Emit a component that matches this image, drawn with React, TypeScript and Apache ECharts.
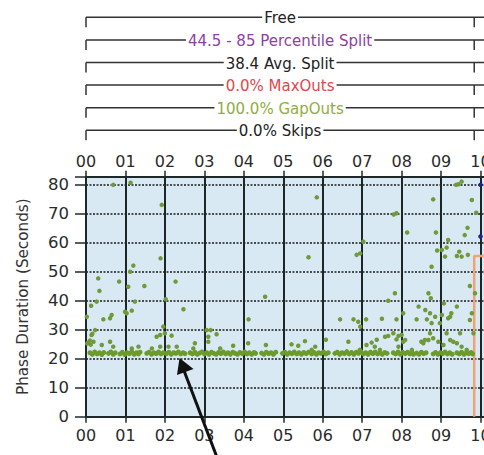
import React, { useEffect, useRef } from "react";
import * as echarts from "echarts";

// ---- data ----
const hourLabels = ["00", "01", "02", "03", "04", "05", "06", "07", "08", "09", "10"];
const yTickValues = [0, 10, 20, 30, 40, 50, 60, 70, 80];

// dense band of gap-out durations near the minimum green
const bandPoints: [number, number][] = [
  [0.1, 22], [0.16, 21.5], [0.22, 22.3], [0.28, 21.6], [0.34, 22], [0.4, 21.4], [0.45, 22.1],
  [0.57, 21.8], [0.63, 22.3], [0.69, 21.5], [0.74, 22],
  [0.86, 21.6], [0.92, 22.2], [0.98, 21.4], [1.04, 22], [1.1, 21.7], [1.16, 22.4], [1.22, 21.5], [1.28, 22], [1.33, 21.6], [1.37, 22.2],
  [1.54, 21.8], [1.6, 22.2], [1.66, 21.5], [1.72, 22], [1.78, 21.7], [1.84, 22.3], [1.9, 21.6], [1.96, 22],
  [2.04, 21.7], [2.1, 22.2], [2.16, 21.5], [2.22, 22], [2.28, 21.8], [2.34, 22.3], [2.4, 21.6], [2.46, 22], [2.51, 21.7],
  [2.64, 22], [2.7, 21.6], [2.76, 22.2], [2.82, 21.5], [2.88, 21.9], [2.94, 22.3], [3.0, 21.6], [3.06, 22], [3.12, 21.5], [3.18, 22.2],
  [3.24, 21.8], [3.3, 21.5], [3.36, 22.1], [3.42, 21.7], [3.48, 22.3], [3.54, 21.6], [3.6, 22], [3.66, 21.5], [3.72, 22.2], [3.78, 21.8],
  [3.84, 21.5], [3.9, 22.1], [3.96, 21.7], [4.02, 22.3], [4.08, 21.6], [4.14, 22], [4.2, 21.5], [4.26, 22.1], [4.3, 21.8],
  [4.45, 21.9], [4.51, 21.5], [4.57, 22.2], [4.63, 21.7], [4.69, 22], [4.75, 21.5], [4.81, 22.2],
  [4.98, 21.8], [5.04, 22.2], [5.1, 21.5], [5.16, 22], [5.22, 21.7], [5.28, 22.3], [5.34, 21.6], [5.4, 22], [5.46, 21.5], [5.52, 22.1], [5.58, 21.7], [5.64, 22.2],
  [5.72, 21.6], [5.78, 22.1], [5.84, 21.5], [5.9, 22], [5.96, 21.8], [6.02, 22.3], [6.08, 21.6], [6.14, 22],
  [6.31, 21.8], [6.37, 22.2], [6.43, 21.5], [6.49, 22], [6.55, 21.7], [6.61, 22.4], [6.67, 21.6], [6.73, 22.1], [6.79, 21.5], [6.85, 22.2],
  [6.91, 21.8], [6.97, 22.4], [7.03, 21.6], [7.09, 22], [7.15, 21.5], [7.21, 22.2], [7.27, 21.7], [7.33, 22.3], [7.39, 21.6], [7.45, 22],
  [7.51, 21.5], [7.57, 22.1], [7.63, 21.8],
  [7.79, 22], [7.85, 21.6], [7.91, 22.3], [7.97, 21.5], [8.03, 22.1], [8.09, 21.7], [8.15, 22.2], [8.21, 21.6], [8.27, 22], [8.3, 21.5],
  [8.38, 21.9], [8.44, 21.5], [8.5, 22.2], [8.56, 21.7], [8.62, 22],
  [8.8, 21.6], [8.86, 22.1], [8.92, 21.5], [8.98, 22], [9.04, 21.7], [9.1, 22.3], [9.16, 21.6], [9.22, 22], [9.28, 21.5],
  [9.4, 22], [9.46, 21.6], [9.52, 22.2], [9.58, 21.5], [9.64, 22], [9.7, 21.7], [9.76, 22.1], [9.8, 21.6],
];

// scattered phase durations above the band
const scatterPoints: [number, number][] = [
  [0.02, 34.4], [0.1, 26.2], [0.13, 38.2], [0.14, 28.1], [0.16, 28.5], [0.19, 25.8], [0.23, 29.8], [0.27, 39.6], [0.31, 47.6],
  [0.34, 43.3], [0.4, 24.7], [0.44, 33.5], [0.06, 25.5], [0.03, 25.2], [0.12, 24.8], [0.61, 25.8], [0.61, 33.9], [0.65, 35.0],
  [0.69, 24.1], [0.69, 79.8], [0.84, 46.5], [0.99, 36.1], [1.03, 35.6], [1.07, 44.7], [1.12, 49.9], [1.13, 80.5], [1.16, 36.5],
  [1.16, 23.5], [1.2, 52.0], [1.24, 39.6], [1.33, 24.1], [1.48, 45.0], [1.67, 23.5], [1.79, 27.5], [1.88, 24.1], [1.88, 28.1],
  [1.89, 54.5], [1.92, 72.9], [1.96, 31.0], [2.02, 40.4], [2.0, 28.7], [2.09, 24.1], [2.17, 27.9], [2.27, 46.5], [2.3, 24.1],
  [2.47, 37.0], [2.72, 23.5], [2.76, 25.3], [3.06, 29.8], [3.1, 25.8], [3.1, 27.5], [3.16, 29.8], [3.31, 28.4], [3.4, 23.5],
  [3.73, 24.4], [4.11, 25.3], [4.12, 33.5], [4.54, 41.3], [4.56, 24.7], [5.21, 24.9], [5.38, 24.4], [5.55, 26.0], [5.64, 54.9],
  [5.72, 23.0], [5.81, 24.1], [5.85, 75.5], [6.08, 26.5], [6.44, 33.5], [6.65, 25.8], [6.78, 33.5], [6.86, 55.7], [6.9, 32.7],
  [6.94, 23.0], [6.95, 31.0], [6.95, 56.2], [7.03, 60.2], [7.1, 33.5], [7.11, 24.7], [7.24, 25.5], [7.32, 24.1], [7.37, 26.5],
  [7.45, 23.0], [7.5, 33.7], [7.58, 27.5], [7.66, 39.9], [7.66, 27.8], [7.8, 69.6], [7.83, 42.5], [7.87, 33.5], [7.87, 70.0],
  [7.79, 28.7], [7.87, 26.6], [7.92, 24.1], [7.92, 27.8], [8.0, 28.1], [8.04, 35.6], [8.04, 25.8], [8.09, 26.4], [8.14, 63.4],
  [8.26, 23.0], [8.38, 33.5], [8.43, 37.9], [8.5, 25.8], [8.55, 25.3], [8.6, 36.7], [8.59, 26.4], [8.64, 33.5], [8.68, 26.4],
  [8.68, 42.5], [8.72, 35.6], [8.72, 28.7], [8.74, 40.8], [8.76, 32.2], [8.76, 51.6], [8.8, 74.8], [8.8, 27.0], [8.85, 34.4],
  [8.87, 63.4], [8.9, 57.2], [8.93, 25.8], [8.97, 32.2], [9.02, 35.0], [9.02, 57.4], [9.06, 24.7], [9.07, 39.0], [9.14, 28.7],
  [9.14, 58.2], [9.1, 55.1], [9.18, 60.8], [9.18, 33.9], [9.23, 34.4], [9.23, 26.4], [9.26, 35.6], [9.31, 25.8], [9.38, 79.8],
  [9.4, 37.9], [9.4, 25.3], [9.4, 55.3], [9.44, 80.0], [9.46, 56.8], [9.48, 28.7], [9.52, 55.1], [9.52, 80.9], [9.52, 24.1],
  [9.6, 62.5], [9.65, 23.0], [9.67, 65.0], [9.68, 55.7], [9.73, 33.3], [9.73, 45.0], [9.78, 74.6], [9.78, 35.6], [9.82, 28.7],
  [9.86, 42.5], [9.89, 70.2],
];

// points of the next plan (past the plan change)
const nextPlanPoints: [number, number][] = [[10.0, 79.8], [10.0, 62.0]];

// plan change step line (time, seconds)
const planChangeLine: [number, number][] = [[9.84, 0], [9.84, 55.3], [10.6, 55.3]];

// plan statistics bracket
const planStart = 0;
const planEnd = 9.84;
const planStats = ["Free", "44.5 - 85 Percentile Split", "38.4 Avg. Split", "0.0% MaxOuts", "100.0% GapOuts", "0.0% Skips"];
const planStatColors = ["#222222", "#9040a0", "#222222", "#e0484a", "#8fae3e", "#222222"];

const FONT = "DejaVu Sans";

export default function App() {
  const ref = useRef<HTMLDivElement>(null);

  useEffect(() => {
    const chart = echarts.init(ref.current!, null, { renderer: "svg" });
    const hourFmt = (v: number) => (Number.isInteger(v) && v >= 0 && v < hourLabels.length ? hourLabels[v] : "");
    const yFmt = (v: number) => (yTickValues.indexOf(v) >= 0 ? String(v) : "");

    chart.setOption({
      animation: false,
      backgroundColor: "#ffffff",
      grid: {
        left: 86,
        width: 418.2,
        top: 176.7,
        height: 240,
        outerBoundsMode: "none",
        containLabel: false,
        show: true,
        backgroundColor: "#d8e9f3",
        borderWidth: 0,
      },
      xAxis: [
        {
          type: "value",
          position: "bottom",
          min: 0,
          max: 10.6,
          interval: 1,
          axisLine: { show: true, lineStyle: { color: "#1e2828", width: 2 } },
          axisTick: { show: true, length: 6, lineStyle: { color: "#1e2828", width: 1.5 } },
          axisLabel: { formatter: hourFmt, margin: 11, fontSize: 16, fontFamily: FONT, color: "#2a2a2a" },
          splitLine: { show: true, lineStyle: { color: "#1c2626", width: 2 } },
        },
        {
          type: "value",
          position: "top",
          min: 0,
          max: 10.6,
          interval: 1,
          axisLine: { show: true, lineStyle: { color: "#1e2828", width: 2 } },
          axisTick: { show: true, length: 6, lineStyle: { color: "#1e2828", width: 1.5 } },
          axisLabel: { formatter: hourFmt, margin: 7, fontSize: 16, fontFamily: FONT, color: "#2a2a2a" },
          splitLine: { show: false },
        },
      ],
      yAxis: {
        type: "value",
        min: 0,
        max: 82.6,
        interval: 10,
        name: "Phase Duration (Seconds)",
        nameLocation: "middle",
        nameGap: 56,
        nameTextStyle: { fontSize: 15.2, fontFamily: FONT, color: "#333333" },
        axisLine: { show: true, lineStyle: { color: "#1e2828", width: 2 } },
        axisTick: { show: true, length: 11, lineStyle: { color: "#1e2828", width: 1.5 } },
        axisLabel: { formatter: yFmt, margin: 17, fontSize: 16.5, fontFamily: FONT, color: "#2a2a2a" },
        splitLine: { show: true, lineStyle: { color: "#1a1a1a", width: 1.5, type: [2, 1.5] } },
      },
      series: [
        {
          type: "line",
          data: planChangeLine,
          symbol: "none",
          lineStyle: { color: "#f0a275", width: 2.5 },
          z: 1,
        },
        {
          type: "scatter",
          data: bandPoints,
          symbolSize: 5,
          itemStyle: { color: "#6c9b2c", opacity: 1 },
        },
        {
          type: "scatter",
          data: scatterPoints,
          symbolSize: 4.5,
          itemStyle: { color: "#70993a", opacity: 1 },
        },
        {
          type: "scatter",
          data: nextPlanPoints,
          symbolSize: 4.5,
          itemStyle: { color: "#22228a", opacity: 1 },
        },
      ],
    });

    const x0 = chart.convertToPixel({ xAxisIndex: 0 }, planStart) as number;
    const x1 = chart.convertToPixel({ xAxisIndex: 0 }, planEnd) as number;
    const midX = (x0 + x1) / 2;
    const graphics: any[] = [];
    planStats.forEach((label, i) => {
      const y = 17.3 + 22.6 * i;
      graphics.push({
        type: "line",
        shape: { x1: x0, y1: y, x2: 500, y2: y },
        style: { stroke: "#333333", lineWidth: 1.5 },
        z: 10,
      });
      graphics.push({
        type: "line",
        shape: { x1: x0, y1: y, x2: x0, y2: y + 10 },
        style: { stroke: "#333333", lineWidth: 1.5 },
        z: 10,
      });
      graphics.push({
        type: "line",
        shape: { x1: x1, y1: y, x2: x1, y2: y + 10 },
        style: { stroke: "#333333", lineWidth: 1.5 },
        z: 10,
      });
      graphics.push({
        type: "text",
        x: midX,
        y: y + 1,
        style: {
          text: label,
          fill: planStatColors[i],
          font: `15px "${FONT}"`,
          align: "center",
          verticalAlign: "middle",
          backgroundColor: "#ffffff",
          padding: [0, 2],
        },
        z: 11,
      });
    });
    // annotation arrow
    graphics.push({
      type: "line",
      shape: { x1: 218, y1: 460, x2: 183, y2: 368 },
      style: { stroke: "#111111", lineWidth: 3 },
      z: 20,
    });
    graphics.push({
      type: "polygon",
      shape: { points: [[179.5, 358], [177, 375], [193.5, 369]] },
      style: { fill: "#111111" },
      z: 20,
    });
    chart.setOption({ graphic: graphics });

    return () => chart.dispose();
  }, []);

  return (
    <div
      ref={ref}
      style={{ position: "absolute", left: 0, top: 0, width: 484, height: 455, background: "#ffffff" }}
    />
  );
}
